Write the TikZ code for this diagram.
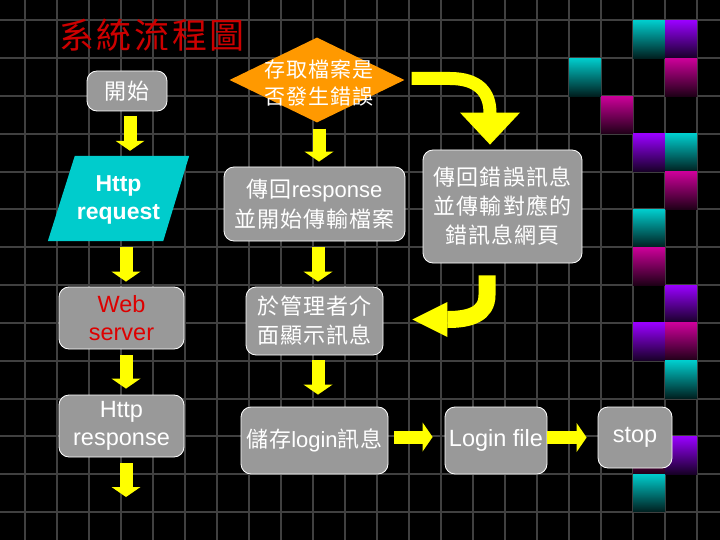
\documentclass[tikz,border=0pt]{standalone}
\usepackage{fontspec}
\setmainfont{Liberation Sans}
\newfontfamily\cjk[LetterSpace=5]{Noto Sans CJK TC}
\newfontfamily\cjktitle[LetterSpace=7.5]{Noto Sans CJK TC}
\usetikzlibrary{arrows.meta,shapes.geometric}
\definecolor{boxgray}{HTML}{999999}
\definecolor{gridgray}{HTML}{404040}
\definecolor{ayellow}{HTML}{FFFF00}
\definecolor{tcyan}{HTML}{00CCCC}
\definecolor{tmag}{HTML}{CC0099}
\definecolor{tpur}{HTML}{9900FF}
\definecolor{dorange}{HTML}{FF9900}
\definecolor{titlered}{HTML}{CC0000}
\definecolor{webred}{HTML}{DD0000}
\pgfdeclarelayer{bg}
\pgfdeclarelayer{mid}
\pgfsetlayers{bg,mid,main}
\begin{document}
\begin{tikzpicture}[x=1pt,y=-1pt,
  gridline/.style={draw=gridgray, line width=2pt},
  box/.style={draw=white, line width=0.8pt, fill=boxgray, rounded corners=10pt, text=white, align=center, inner sep=0pt},
  cjktext/.style={font=\cjk\fontsize{22}{29}\selectfont},
  lattext/.style={font=\fontsize{23.5}{28}\selectfont},
  blockarr/.style={draw=ayellow, line width=13pt, -{Triangle[width=29pt,length=10pt,line width=0pt]}},
  curvup/.style={draw=ayellow, line width=13pt, -{Triangle[width=60pt,length=32pt,line width=0pt]}},
  curvdown/.style={draw=ayellow, line width=17pt, -{Triangle[width=35pt,length=35pt,line width=0pt]}}
]
\useasboundingbox (0,0) rectangle (720,540);
\begin{pgfonlayer}{bg}
\fill[black] (0,0) rectangle (720,540);
\foreach \k in {0,...,21} \draw[gridline] ({25+32*\k},0) -- ({25+32*\k},540);
\foreach \k in {0,...,13} \draw[gridline] (0,{20.5+37.8*\k}) -- (720,{20.5+37.8*\k});
\foreach \c/\r/\col in {19/0/tcyan, 20/0/tpur, 17/1/tcyan, 20/1/tmag, 18/2/tmag, 19/3/tpur, 20/3/tcyan, 20/4/tmag, 19/5/tcyan, 19/6/tmag, 20/7/tpur, 19/8/tpur, 20/8/tmag, 20/9/tcyan, 19/11/tmag, 20/11/tpur, 19/12/tcyan}
  \shade[top color=\col, middle color=\col!80!black, bottom color=\col!15!black] ({25+32*\c},{20.5+37.8*\r}) rectangle ({57+32*\c},{58.3+37.8*\r});
\end{pgfonlayer}

\node[text=titlered, font=\cjktitle\fontsize{35}{35}\selectfont] (title) at (152,35) {系統流程圖};

% column 1
\node[box, minimum width=80pt, minimum height=40pt, cjktext] (start) at (127,91) {開始};
\node[text=white, font=\bfseries\fontsize{23}{28}\selectfont, align=center, minimum width=141pt, minimum height=85pt, inner sep=0pt] (req) at (118.5,199.5) {Http\\request};
\begin{pgfonlayer}{mid}
\fill[tcyan] ([xshift=27pt,yshift=1pt]req.north west) -- ([yshift=1pt]req.north east) -- ([xshift=-26pt,yshift=1pt]req.south east) -- ([yshift=1pt]req.south west) -- cycle;
\end{pgfonlayer}
\node[box, minimum width=125pt, minimum height=62pt, lattext, text=webred] (web) at (121.5,318) {Web\\server};
\node[box, minimum width=125pt, minimum height=62pt, lattext] (resp) at (121.5,426) {Http\\response};
\coordinate (respend) at (126,497);

% column 2
\node[diamond, fill=dorange, minimum width=175pt, minimum height=85pt, inner sep=0pt] (dia) at (317,80) {};
\node[text=white, font=\cjk\fontsize{21}{27}\selectfont, align=center] (diatxt) at (319,83) {存取檔案是\\否發生錯誤};
\node[box, minimum width=181pt, minimum height=74pt, font=\fontsize{22}{30}\selectfont] (ret) at (314.5,204) {{\cjk 傳回}response\\{\cjk 並開始傳輸檔案}};
\node[box, minimum width=137pt, minimum height=68pt, cjktext] (mgr) at (314.5,321) {於管理者介\\面顯示訊息};
\node[box, minimum width=147pt, minimum height=67pt, font=\fontsize{22}{29}\selectfont] (store) at (314.5,440.5) {{\cjk 儲存}login{\cjk 訊息}};

% column 3
\node[box, minimum width=159pt, minimum height=113pt, cjktext] (err) at (502.5,206.5) {傳回錯誤訊息\\並傳輸對應的\\錯訊息網頁};
\node[box, minimum width=102pt, minimum height=67pt, lattext] (login) at (496,440.5) {Login file};
\node[box, minimum width=74pt, minimum height=61pt, lattext] (stop) at (635,437.5) {stop};

% straight block arrows
\draw[blockarr] ([xshift=3pt,yshift=-5pt]start.south) -- ([xshift=3pt,yshift=6pt]start.south |- req.north);
\draw[blockarr] ([xshift=7.5pt,yshift=-5pt]req.south) -- ([xshift=7.5pt,yshift=5pt]req.south |- web.north);
\draw[blockarr] ([xshift=4.5pt,yshift=-6pt]web.south) -- ([xshift=4.5pt,yshift=6pt]web.south |- resp.north);
\draw[blockarr] ([xshift=4.5pt,yshift=-6pt]resp.south) -- (respend);
\draw[blockarr] ([xshift=2pt,yshift=-6pt]dia.south) -- ([xshift=2pt,yshift=5pt]dia.south |- ret.north);
\draw[blockarr] ([xshift=3.5pt,yshift=-6pt]ret.south) -- ([xshift=3.5pt,yshift=5pt]ret.south |- mgr.north);
\draw[blockarr] ([xshift=3.5pt,yshift=-5pt]mgr.south) -- ([xshift=3.5pt,yshift=12pt]mgr.south |- store.north);
\draw[blockarr] ([xshift=6pt,yshift=3.5pt]store.east) -- ([xshift=-12pt,yshift=3.5pt]login.west);
\draw[blockarr] ([yshift=3pt]login.east) -- ([xshift=-11pt]stop.west);

% curved arrows
\draw[curvup] ([xshift=7pt,yshift=1.5pt]dia.east) -- (450,78.5) .. controls (478,78.5) and (490,92) .. (490,113) -- ([xshift=-12.5pt,yshift=5pt]err.north);
\draw[curvdown] ([xshift=-15.5pt,yshift=-12pt]err.south) -- (487,295) .. controls (487,314) and (470,319.5) .. (448,319.5) -- ([xshift=29pt,yshift=1.5pt]mgr.east);
\end{tikzpicture}
\end{document}
